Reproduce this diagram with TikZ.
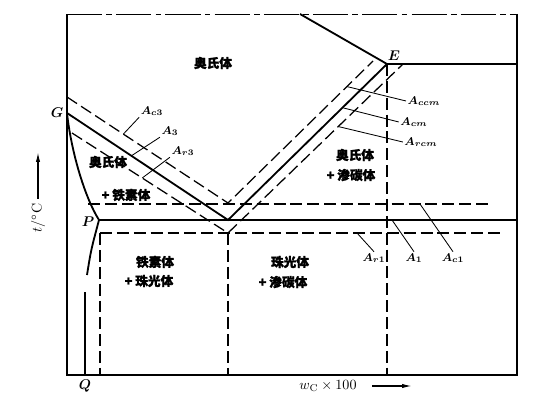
\documentclass[tikz,border=0pt]{standalone}
\usepackage{fontspec}
\newfontfamily\cjk[FakeBold=1.5]{Noto Sans CJK SC}
\usetikzlibrary{calc,arrows.meta}
\begin{document}
\begin{tikzpicture}[x=0.025cm,y=-0.025cm,
		phase/.style={line width=1.3pt},
		crit/.style={line width=0.9pt,dash pattern=on 8.5pt off 3.5pt},
		lead/.style={line width=0.6pt},
		area/.style={font=\cjk\bfseries\small,inner sep=1pt},
		tag/.style={font=\footnotesize\boldmath,inner sep=1pt},
		pt/.style={font=\boldmath,inner sep=1pt}]
	\useasboundingbox (0,0) rectangle (544,400);
	% corners of the frame
	\coordinate (TL) at (67,14);
	\coordinate (TR) at (517,14);
	\coordinate (BL) at (67,375);
	\coordinate (BR) at (517,375);
	% points of the diagram
	\coordinate (G) at (67,113);
	\coordinate (S) at (228,220);
	\coordinate (E) at (387,64);
	\coordinate (P) at (99,220);
	\coordinate (Q) at (85,375);
	\coordinate (Ltop) at (300,14);
	\coordinate (K) at (517,220);
	\coordinate (Eright) at (517,64);
	\coordinate (q1) at (87,275);
	\coordinate (q2) at (85,292);
	\coordinate (V1) at (228,203);
	\coordinate (V2) at (228,233);
	\coordinate (c3a) at (67,97);
	\coordinate (ccm) at (373,61);
	\coordinate (r3a) at (72,133);
	\coordinate (rcm) at (403,64);
	\coordinate (c1a) at (88,204);
	\coordinate (c1b) at (488,204);
	\coordinate (r1a) at (100,233);
	\coordinate (r1b) at (503,233);
	\coordinate (Sbot) at (228,375);
	\coordinate (Pbot) at (100,375);
	\coordinate (Ebot) at (387,375);

	\draw [phase] (TR) -- (BR) -- (BL) -- (TL);
	\draw [line width=0.7pt,dash pattern=on 25pt off 3pt on 4pt off 3pt] (TL) -- (TR);
	\draw [phase] (Ltop) -- (E) -- (Eright);
	\draw [phase] (G) -- (S) -- (E);
	\draw [phase] (G) .. controls (71,150) and (84,196) .. (P);
	\draw [phase] (P) -- (K);
	\draw [phase] (P) .. controls (91,250) .. (q1);
	\draw [phase] (q2) -- (Q);
	\draw [crit] (c3a) -- (V1) -- (ccm);
	\draw [crit] (r3a) -- (V2) -- (rcm);
	\draw [crit] (c1a) -- (c1b);
	\draw [crit] (r1a) -- (r1b);
	\draw [crit] (r1a) -- (Pbot);
	\draw [crit] (V2) -- (Sbot);
	\draw [crit] (E) -- (Ebot);

	% points
	\node (lG) [pt] at (57,113) {$G$};
	\node (lE) [pt] at (394,56) {$E$};
	\node (lP) [pt] at (88,222) {$P$};
	\node (lQ) [pt] at (85,386) {$Q$};

	% phase regions
	\node (aus) [area] at (213,63) {奥氏体};
	\node (aus2) [area] at (108,162) {奥氏体};
	\node (fer) [area] at (126,195) {+ 铁素体};
	\node (aus3) [area] at (355,155) {奥氏体};
	\node (cem) [area] at (351,175) {+ 渗碳体};
	\node (fer2) [area] at (155,262) {铁素体};
	\node (pea) [area] at (149,281) {+ 珠光体};
	\node (pea2) [area] at (290,262) {珠光体};
	\node (cem2) [area] at (283,282) {+ 渗碳体};

	% critical point labels
	\node (Ac3) [tag] at (152,111) {$A_{c3}$};
	\node (A3) [tag] at (170,131) {$A_3$};
	\node (Ar3) [tag] at (183,151) {$A_{r3}$};
	\node (Accm) [tag] at (424,101) {$A_{ccm}$};
	\node (Acm) [tag] at (414,122) {$A_{cm}$};
	\node (Arcm) [tag] at (421,142) {$A_{rcm}$};
	\node (Ar1) [tag] at (374,258) {$A_{r1}$};
	\node (A1) [tag] at (414,258) {$A_1$};
	\node (Ac1) [tag] at (453,258) {$A_{c1}$};

	\draw [lead] ($(c3a)!0.35!(V1)$) -- (Ac3.south west);
	\draw [lead] ($(G)!0.40!(S)$) -- (A3.south west);
	\draw [lead] ($(r3a)!0.45!(V2)$) -- (Ar3.south west);
	\draw [lead] ($(V1)!0.82!(ccm)$) -- (Accm.west);
	\draw [lead] ($(S)!0.72!(E)$) -- (Acm.west);
	\draw [lead] ($(V2)!0.63!(rcm)$) -- (Arcm.west);
	\draw [lead] (357,233) -- (Ar1.north);
	\draw [lead] (392,220) -- (A1.north);
	\draw [lead] (420,204) -- (Ac1.north);

	% axes
	\node (tlab) [rotate=90] at (38,218) {$t/^{\circ}\mathrm{C}$};
	\coordinate (taxis) at (38,152);
	\draw [line width=0.9pt,-{Latex[length=7pt,width=3pt]}] (tlab.east) -- (taxis);
	\node (wlab) at (328,386) {$w_{\mathrm{C}}\times 100$};
	\coordinate (wstart) at (372,386);
	\coordinate (waxis) at (412,386);
	\draw [line width=0.9pt,-{Latex[length=7pt,width=3pt]}] (wstart) -- (waxis);
\end{tikzpicture}
\end{document}
